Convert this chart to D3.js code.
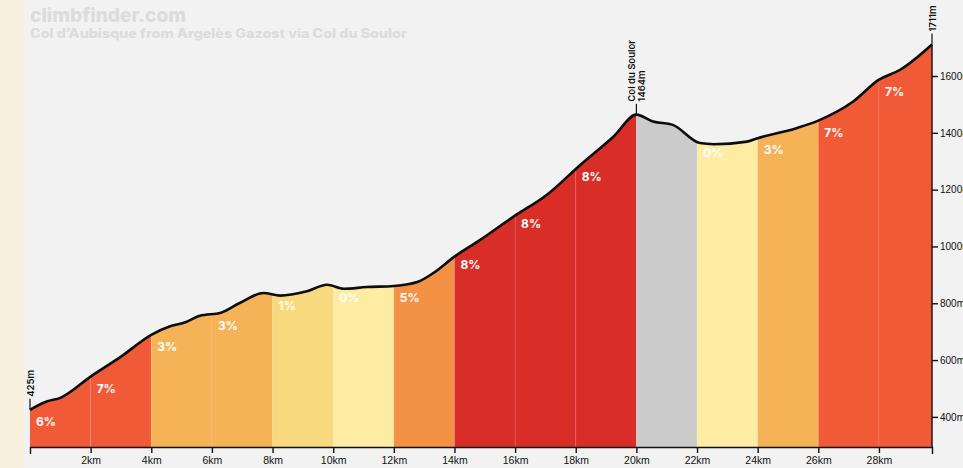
<!DOCTYPE html>
<html>
<head>
<meta charset="utf-8">
<script src="https://cdn.jsdelivr.net/npm/d3@7"></script>
<style>
  html, body { margin: 0; padding: 0; background: #f2f2f2; }
  svg { display: block; font-family: Inter, "Noto Sans", sans-serif; }
</style>
</head>
<body>
<div id="chart"></div>
<script>
// profile (km, metres)
const profileKm   = [0, 0.55, 1.0, 2.0, 3.0, 4.0, 4.6, 5.1, 5.6, 6.3, 6.9, 7.7, 8.25, 9.1, 9.8, 10.35, 11.1, 12.0, 12.8, 13.3, 14.0, 14.85, 15.95, 17.05, 18.15, 19.25, 20.0, 20.55, 21.2, 22.1, 22.55, 23.65, 24.0, 25.3, 26.0, 27.15, 28.0, 28.7, 29.75];
const profileElev = [425, 454, 467, 542, 612, 689, 718, 732, 756, 767, 800, 836, 827, 841, 865, 851, 857, 861, 876, 906, 964, 1023, 1105, 1182, 1287, 1387, 1464, 1440, 1428, 1364, 1360, 1369, 1381, 1417, 1443, 1510, 1587, 1622, 1711];

// 2km segments and their average gradient
const segmentBounds = [0, 2, 4, 6, 8, 10, 12, 14, 16, 18, 20, 22, 24, 26, 28, 29.75];
const segmentGrades = [6, 7, 3, 3, 1, 0, 5, 8, 8, 8, -5, 0, 3, 7, 7];

const kmTicks   = [2, 4, 6, 8, 10, 12, 14, 16, 18, 20, 22, 24, 26, 28];
const elevTicks = [400, 600, 800, 1000, 1200, 1400, 1600];

const title    = "climbfinder.com";
const subtitle = "Col d\u2019Aubisque from Argelès Gazost via Col du Soulor";
const summit   = { km: 20, elev: 1464, name: "Col du Soulor" };

const width = 963, height = 468;
const margins = { left: 30, right: 31, bottom: 21, top: 76 };

const svg = d3.select("#chart").append("svg")
  .attr("width", width)
  .attr("height", height);

svg.append("rect").attr("width", width).attr("height", height).attr("fill", "#f2f2f2");
// that beige strip on the far left
svg.append("rect").attr("width", 24).attr("height", height).attr("fill", "#f8f0dd");

const x = d3.scaleLinear()
  .domain([0, 29.75])
  .range([margins.left, width - margins.right]);

const y = d3.scaleLinear()
  .domain([294, 1600])
  .range([height - margins.bottom, margins.top]);

const gradeColor = d3.scaleThreshold()
  .domain([0, 1, 3, 5, 6, 8])
  .range(["#cbcbcb", "#fdeca1", "#f9d97d", "#f5b256", "#f39145", "#f05a37", "#d92d28"]);

const points = profileKm.map((k, i) => [k, profileElev[i]]);
const elevAt = km => {
  const i = Math.max(1, d3.bisectLeft(profileKm, km));
  const k0 = profileKm[i - 1], k1 = profileKm[i];
  return d3.interpolateNumber(profileElev[i - 1], profileElev[i])((km - k0) / (k1 - k0));
};

const bottomY = y.range()[0];

const area = d3.area()
  .curve(d3.curveMonotoneX)
  .x(d => x(d[0]))
  .y0(bottomY)
  .y1(d => y(d[1]));

const line = d3.line()
  .curve(d3.curveMonotoneX)
  .x(d => x(d[0]))
  .y(d => y(d[1]));

svg.append("clipPath").attr("id", "profile-clip")
  .append("path").attr("d", area(points));

const segments = segmentGrades.map((g, i) => ({ grade: g, start: segmentBounds[i], end: segmentBounds[i + 1] }));

const fills = svg.append("g").attr("clip-path", "url(#profile-clip)");
fills.selectAll("rect.seg")
  .data(segments)
  .enter().append("rect")
    .attr("class", "seg")
    .attr("x", d => x(d.start))
    .attr("width", d => x(d.end) - x(d.start))
    .attr("y", 0)
    .attr("height", bottomY)
    .attr("fill", d => gradeColor(d.grade));

// faint separators between segments (barely visible in the original)
fills.selectAll("line.sep")
  .data(segmentBounds.slice(1, -1))
  .enter().append("line")
    .attr("x1", d => x(d)).attr("x2", d => x(d))
    .attr("y1", 0).attr("y2", bottomY)
    .attr("stroke", "#fff").attr("stroke-opacity", 0.12).attr("stroke-width", 1);

svg.append("path")
  .attr("d", line(points))
  .attr("fill", "none")
  .attr("stroke", "#0d0d0d")
  .attr("stroke-width", 2.6)
  .attr("stroke-linejoin", "round");

// gradient labels (none on the descent)
svg.selectAll("text.grade")
  .data(segments.filter(d => d.grade >= 0))
  .enter().append("text")
    .attr("class", "grade")
    .attr("x", d => x(d.start) + 6)
    .attr("y", d => y(elevAt(d.start)) + (d.grade >= 8 ? 12 : 16))
    .attr("fill", "#fff")
    .style("font-size", "12px")
    .style("font-weight", 700)
    .text(d => d.grade + "%");

// X axis
const xAxis = svg.append("g")
  .attr("transform", `translate(0,${bottomY})`)
  .call(d3.axisBottom(x).tickValues(kmTicks).tickFormat(d => d + "km").tickSize(6).tickSizeOuter(7));
xAxis.select(".domain").attr("stroke", "#111").attr("stroke-width", 1.4);
xAxis.selectAll(".tick line").attr("stroke", "#111").attr("stroke-width", 1.4);
xAxis.selectAll(".tick text")
  .attr("y", 10)
  .attr("fill", "#111")
  .style("font-size", "10.5px")
  .style("font-weight", 500);

// Y axis on the right
const yAxis = svg.append("g")
  .attr("transform", `translate(${x(29.75)},0)`)
  .call(d3.axisRight(y).tickValues(elevTicks).tickFormat(d => d + "m").tickSize(6).tickSizeOuter(0));
yAxis.select(".domain").remove();
yAxis.selectAll(".tick line").attr("stroke", "#111").attr("stroke-width", 1.4);
yAxis.selectAll(".tick text")
  .attr("x", 8)
  .attr("fill", "#111")
  .style("font-size", "10px")
  .style("font-weight", 500);
yAxis.append("line")
  .attr("y1", bottomY).attr("y2", y(profileElev[profileElev.length - 1]))
  .attr("stroke", "#111").attr("stroke-width", 1.4);

// little vertical markers with rotated labels
function marker(km, elev, lines) {
  const px = x(km), py = y(elev);
  svg.append("line")
    .attr("x1", px).attr("x2", px)
    .attr("y1", py).attr("y2", py - 11)
    .attr("stroke", "#111").attr("stroke-width", 1.2);
  const t = svg.append("text")
    .attr("transform", `translate(${px},${py - 13}) rotate(-90)`)
    .attr("text-anchor", "start")
    .attr("fill", "#111")
    .style("font-size", "9.5px")
    .style("font-weight", 600);
  lines.forEach((s, i) => {
    t.append("tspan")
      .attr("x", 0)
      .attr("y", (i - (lines.length - 1) / 2) * 10.5 + 3.5)
      .text(s);
  });
}
marker(0, profileElev[0], [profileElev[0] + "m"]);
marker(summit.km, summit.elev, [summit.name, summit.elev + "m"]);
marker(29.75, profileElev[profileElev.length - 1], [profileElev[profileElev.length - 1] + "m"]);

// watermark-ish title
svg.append("text")
  .attr("x", 30).attr("y", 22)
  .attr("fill", "#dcdcdc")
  .attr("textLength", 156)
  .attr("lengthAdjust", "spacingAndGlyphs")
  .style("font-size", "19px")
  .style("font-weight", 800)
  .text(title);
svg.append("text")
  .attr("x", 30).attr("y", 38)
  .attr("fill", "#dcdcdc")
  .attr("textLength", 377)
  .attr("lengthAdjust", "spacingAndGlyphs")
  .style("font-size", "12.5px")
  .style("font-weight", 800)
  .text(subtitle);
</script>
</body>
</html>
